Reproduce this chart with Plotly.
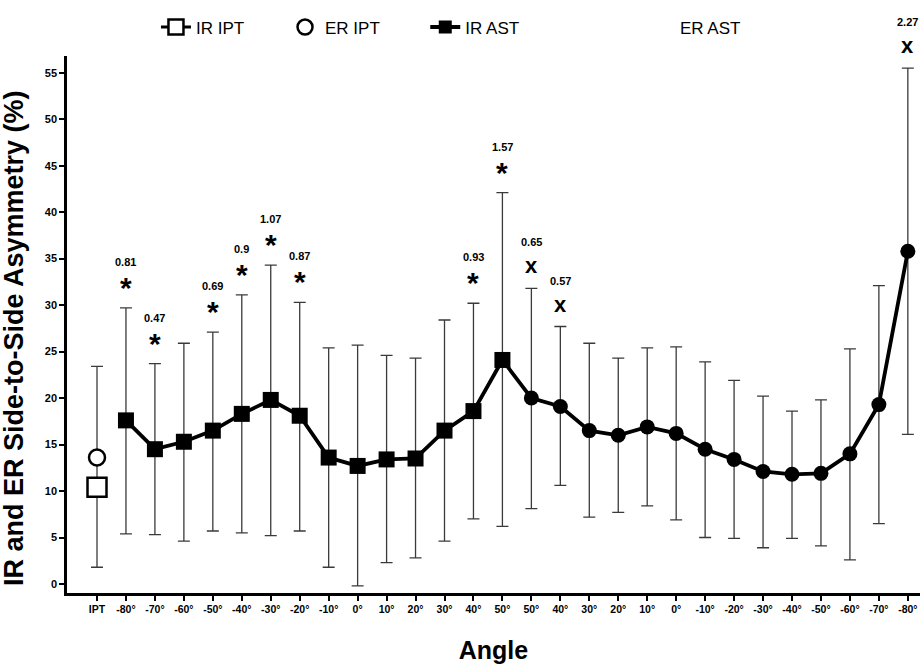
import plotly.graph_objects as go

# ---------------- data ----------------
tick_labels = ["IPT", "-80°", "-70°", "-60°", "-50°", "-40°", "-30°", "-20°", "-10°", "0°",
               "10°", "20°", "30°", "40°", "50°",
               "50°", "40°", "30°", "20°", "10°", "0°", "-10°", "-20°", "-30°", "-40°",
               "-50°", "-60°", "-70°", "-80°"]

# IPT (index 0)
ir_ipt_mean = 10.4
ipt_hi = 23.4
ipt_lo = 1.8
er_ipt_mean = 13.6

# IR AST (indices 1..14): -80 .. 50
ir_ast_mean = [17.6, 14.5, 15.3, 16.5, 18.3, 19.8, 18.1, 13.6, 12.7, 13.4, 13.5, 16.5, 18.6, 24.1]
ir_ast_hi = [29.7, 23.7, 25.9, 27.1, 31.1, 34.3, 30.3, 25.4, 25.7, 24.6, 24.3, 28.4, 30.2, 42.1]
ir_ast_lo = [5.4, 5.3, 4.6, 5.7, 5.5, 5.2, 5.7, 1.8, -0.2, 2.3, 2.8, 4.6, 7.0, 6.2]

# ER AST (indices 15..28): 50 .. -80
er_ast_mean = [20.0, 19.1, 16.5, 16.0, 16.9, 16.2, 14.5, 13.4, 12.1, 11.8, 11.9, 14.0, 19.3, 35.8]
er_ast_hi = [31.8, 27.7, 25.9, 24.3, 25.4, 25.5, 23.9, 21.9, 20.2, 18.6, 19.8, 25.3, 32.1, 55.5]
er_ast_lo = [8.1, 10.6, 7.2, 7.7, 8.4, 6.9, 5.0, 4.9, 3.9, 4.9, 4.1, 2.6, 6.5, 16.1]

# significance marks: (category index, symbol, effect size)
sig_index = [1, 2, 4, 5, 6, 7, 13, 14, 15, 16, 28]
sig_symbol = ["*", "*", "*", "*", "*", "*", "*", "*", "x", "x", "x"]
sig_value = ["0.81", "0.47", "0.69", "0.9", "1.07", "0.87", "0.93", "1.57", "0.65", "0.57", "2.27"]

y_title = "IR and ER Side-to-Side Asymmetry (%)"
x_title = "Angle"

# ---------------- derived ----------------
n = len(tick_labels)
xs = list(range(n))
ir_x = xs[1:15]
er_x = xs[15:29]
ast_x = ir_x + er_x
ast_mean = ir_ast_mean + er_ast_mean
ast_hi = ir_ast_hi + er_ast_hi
ast_lo = ir_ast_lo + er_ast_lo

ERR_COLOR = "#3a3a3a"
FONT = "Liberation Sans, Arial, sans-serif"

def err(mean, hi, lo):
    return dict(type="data", symmetric=False,
                array=[h - m for h, m in zip(hi, mean)],
                arrayminus=[m - l for m, l in zip(mean, lo)],
                color=ERR_COLOR, thickness=1.3, width=6)

fig = go.Figure()

# error bars for AST (drawn first, under line)
fig.add_trace(go.Scatter(x=ast_x, y=ast_mean, mode="markers",
                         marker=dict(size=1, color="rgba(0,0,0,0)"),
                         error_y=err(ast_mean, ast_hi, ast_lo),
                         showlegend=False, hoverinfo="skip"))
# connecting line
fig.add_trace(go.Scatter(x=ast_x, y=ast_mean, mode="lines",
                         line=dict(color="black", width=3.8),
                         showlegend=False))
# IR AST squares
fig.add_trace(go.Scatter(x=ir_x, y=ir_ast_mean, mode="markers",
                         marker=dict(symbol="square", size=16, color="black"),
                         showlegend=False))
# ER AST circles
fig.add_trace(go.Scatter(x=er_x, y=er_ast_mean, mode="markers",
                         marker=dict(symbol="circle", size=15, color="black"),
                         showlegend=False))
# IPT error bar + open square
fig.add_trace(go.Scatter(x=[0], y=[ir_ipt_mean], mode="markers",
                         marker=dict(symbol="square", size=19, color="white",
                                     line=dict(color="black", width=2.5)),
                         error_y=err([ir_ipt_mean], [ipt_hi], [ipt_lo]),
                         showlegend=False))
fig.add_trace(go.Scatter(x=[0], y=[er_ipt_mean], mode="markers",
                         marker=dict(symbol="circle", size=16, color="white",
                                     line=dict(color="black", width=2.5)),
                         showlegend=False))

# legend entries (each in its own legend box)
fig.add_trace(go.Scatter(x=[None], y=[None], mode="lines+markers", name="IR IPT",
                         legend="legend",
                         line=dict(color="black", width=3),
                         marker=dict(symbol="square", size=15, color="white",
                                     line=dict(color="black", width=2.5))))
fig.add_trace(go.Scatter(x=[None], y=[None], mode="markers", name="ER IPT",
                         legend="legend2",
                         marker=dict(symbol="circle", size=15, color="white",
                                     line=dict(color="black", width=2.5))))
fig.add_trace(go.Scatter(x=[None], y=[None], mode="lines+markers", name="IR AST",
                         legend="legend3",
                         line=dict(color="black", width=4),
                         marker=dict(symbol="square", size=13, color="black")))
fig.add_trace(go.Scatter(x=[None], y=[None], mode="markers", name="ER AST",
                         legend="legend4",
                         marker=dict(symbol="circle", size=1, color="rgba(0,0,0,0)")))

# significance annotations
for idx, sym, val in zip(sig_index, sig_symbol, sig_value):
    top = ast_hi[ast_x.index(idx)]
    if sym == "*":
        fig.add_annotation(x=idx, y=top, text="*", showarrow=False, yanchor="bottom",
                           yshift=2, font=dict(family=FONT, size=30, color="black", weight="bold"))
    else:
        fig.add_annotation(x=idx, y=top, text="x", showarrow=False, yanchor="bottom",
                           yshift=8, font=dict(family=FONT, size=22, color="black", weight="bold"))
    fig.add_annotation(x=idx, y=top, text=val, showarrow=False, yanchor="bottom",
                       yshift=38, font=dict(family=FONT, size=11, color="black", weight="bold"))

# y-axis title as rotated text
fig.add_annotation(xref="paper", yref="paper", x=-0.062, y=0.475, text=y_title,
                   textangle=-90, showarrow=False, xanchor="center", yanchor="middle",
                   font=dict(family=FONT, size=27, color="black", weight="bold"))

def leg(xpos):
    return dict(orientation="h", x=xpos, xanchor="left", y=1.0866, yanchor="top",
                font=dict(family=FONT, size=17, color="black"),
                bgcolor="rgba(0,0,0,0)")

fig.update_layout(
    width=923, height=670,
    margin=dict(l=67, r=3, t=56, b=77),
    plot_bgcolor="white", paper_bgcolor="white",
    font=dict(family=FONT, color="black"),
    showlegend=True,
    legend=leg(0.1043),
    legend2=leg(0.2556),
    legend3=leg(0.4200),
    legend4=leg(0.6717),
    xaxis=dict(range=[-1.036, 28.42], tickmode="array", tickvals=xs, ticktext=tick_labels,
               showline=True, linecolor="black", linewidth=2.5, ticks="outside",
               ticklen=5, tickwidth=2, tickcolor="black", showgrid=False, zeroline=False,
               tickfont=dict(family=FONT, size=10.5, color="black", weight="bold"),
               title=dict(text=x_title, font=dict(family=FONT, size=25, weight="bold"),
                          standoff=28)),
    yaxis=dict(range=[-0.97, 56.8], tickmode="array", tickvals=list(range(0, 60, 5)),
               showline=True, linecolor="black", linewidth=2.5, ticks="outside",
               ticklen=5, tickwidth=2, tickcolor="black", showgrid=False, zeroline=False,
               tickfont=dict(family=FONT, size=11, color="black", weight="bold")),
)

fig.write_html("out.html", config={"displayModeBar": False},
               post_script="document.body.style.margin='0px';")
